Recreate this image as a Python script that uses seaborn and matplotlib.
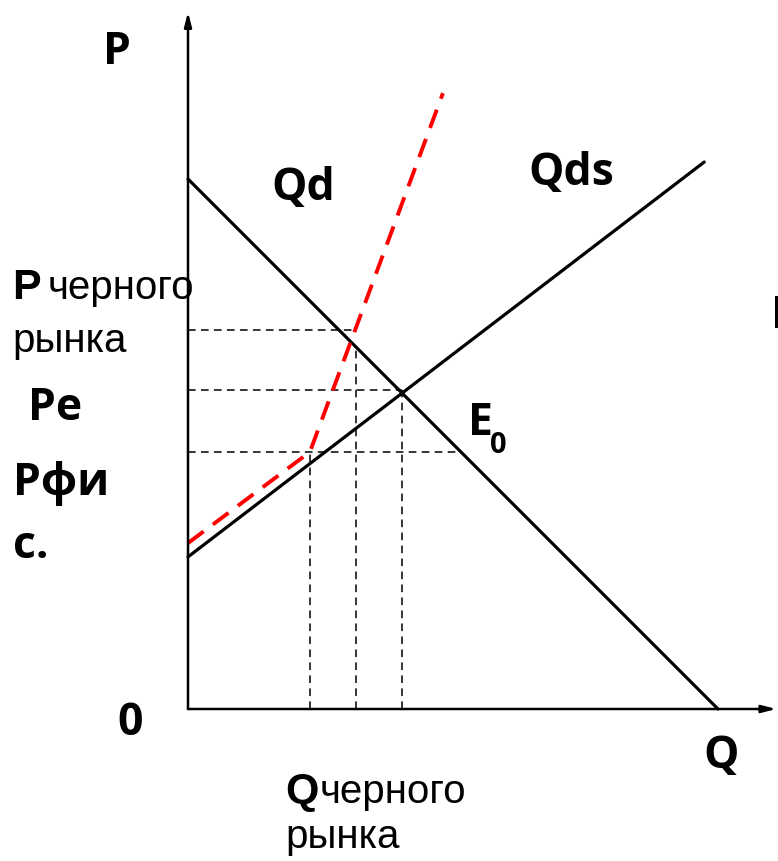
import numpy as np
import pandas as pd
import seaborn as sns
import matplotlib.pyplot as plt

# Data (economic units, origin at 0)
demand_q = [0.0, 10.0]
demand_p = [10.0, 0.0]
supply_q = [0.0, 9.74]
supply_p = [2.87, 10.32]
black_q = [0.0, 2.30, 4.81]
black_p = [3.13, 4.85, 11.62]

p_black, p_e, p_fix = 7.15, 6.02, 4.85
q_fix, q_black, q_e = 2.30, 3.17, 4.04

sns.set_theme(style="white")
plt.rcParams['font.family'] = ['Open Sans', 'DejaVu Sans']
plt.rcParams['text.color'] = 'black'

fig = plt.figure(figsize=(7.78, 8.61), dpi=100)
ax = fig.add_axes([0, 0, 1, 1])
ax.set_xlim(-188 / 53, 590 / 53)
ax.set_ylim(-152 / 53, 709 / 53)
ax.axis("off")

# Axes with arrows
arrow = dict(arrowstyle="-|>,head_length=0.7,head_width=0.18", lw=1.8, color="black",
             shrinkA=0, shrinkB=0)
ax.annotate("", xy=(0, 13.15), xytext=(0, 0), arrowprops=arrow)
ax.annotate("", xy=(11.1, 0), xytext=(0, 0), arrowprops=arrow)

# Dashed guide lines
guide = dict(color="black", lw=1.1, linestyle=(0, (5, 3.5)))
ax.plot([0, 3.09], [p_black, p_black], **guide)
ax.plot([0, q_e], [p_e, p_e], **guide)
ax.plot([0, 10 - p_fix], [p_fix, p_fix], **guide)
ax.plot([q_fix, q_fix], [0, p_fix], **guide)
ax.plot([q_black, q_black], [0, 10 - q_black], **guide)
ax.plot([q_e, q_e], [0, p_e], **guide)

# Demand and supply
sns.lineplot(x=demand_q, y=demand_p, color="black", lw=2.3, ax=ax, sort=False, estimator=None)
sns.lineplot(x=supply_q, y=supply_p, color="black", lw=2.3, ax=ax, sort=False, estimator=None)

# Black market supply
sns.lineplot(x=black_q, y=black_p, color="#ff0000", lw=2.8, ax=ax, sort=False,
             estimator=None, linestyle=(0, (5, 3)))

# Labels
bold = dict(fontsize=32, fontweight="bold", ha="left", va="baseline")
reg = dict(fontsize=29, family=["Liberation Sans", "DejaVu Sans"], ha="left", va="baseline")
ax.text(-1.60, 12.17, "P", **bold)
ax.text(1.57, 9.60, "Qd", **bold)
ax.text(6.43, 9.89, "Qds", **bold)
ax.text(-3.32, 7.74, "P", family=["Liberation Sans"], fontsize=31, fontweight="bold",
        ha="left", va="baseline")
ax.text(-2.64, 7.74, "черного", **reg)
ax.text(-3.32, 6.74, "рынка", **reg)
ax.text(-3.02, 5.45, "Pe", **bold)
ax.text(-3.30, 4.04, "Рфи", **bold)
ax.text(-3.30, 2.85, "с.", **bold)
ax.text(5.28, 5.17, "E", **bold)
ax.text(5.70, 4.83, "0", fontsize=21, fontweight="bold", ha="left", va="baseline")
ax.text(-1.34, -0.49, "0", **bold)
ax.text(9.72, -1.11, "Q", **bold)
ax.text(1.83, -1.77, "Q", family=["Liberation Sans"], fontsize=31, fontweight="bold",
        ha="left", va="baseline")
ax.text(2.49, -1.77, "черного", **reg)
ax.text(1.83, -2.62, "рынка", **reg)
ax.text(11.0, 7.19, "P", **bold)

fig.savefig("out.png", dpi=100)
